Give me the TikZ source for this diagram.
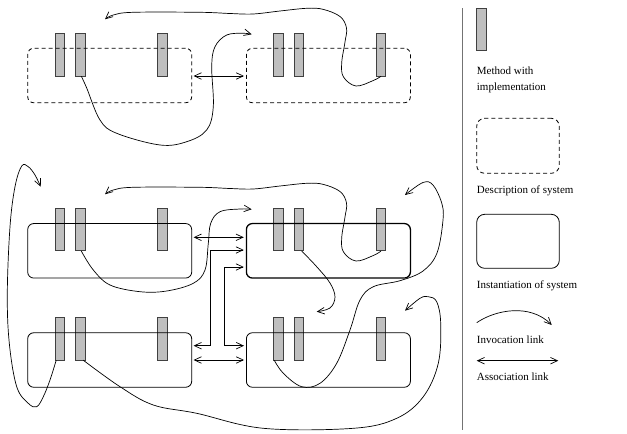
\documentclass[tikz,border=0pt]{standalone}
\usepackage{fontspec}
\setmainfont{Liberation Serif}
\usetikzlibrary{arrows.meta}
\begin{document}
\begin{tikzpicture}[x=1pt,y=-1pt,
  tip/.tip={Straight Barb[length=7pt,width=6.5pt]},
  methodbar/.style={rectangle,draw=black!75,fill=black!25,line width=0.6pt,
    minimum width=9.5pt,minimum height=42.5pt,inner sep=0pt},
  sysbox/.style={rectangle,draw,rounded corners=6pt,line width=0.8pt,
    minimum width=164pt,minimum height=54.5pt,inner sep=0pt},
  descbox/.style={sysbox,dash pattern=on 4pt off 3pt},
  inv/.style={-tip,line width=0.7pt},
  assoc/.style={tip-tip,line width=0.7pt},
  legendtext/.style={anchor=base west,inner sep=0pt,font=\fontsize{11}{13}\selectfont}]
\useasboundingbox (0,0) rectangle (627,434);

% methods: rows d (description), t and b (instances); columns 1..6
\foreach \r/\y in {d/54.7,t/229.5,b/338.7}
  \foreach \c/\x in {1/59.7,2/80.3,3/162.2,4/278.3,5/298.7,6/381}
    \node[methodbar] (\r\c) at (\x,\y) {};

% system descriptions
\node[descbox] (DL) at (109.7,75.5) {};
\node[descbox] (DR) at (328.4,75.5) {};
% system instances
\node[sysbox] (TL) at (109.7,250.8) {};
\node[sysbox,line width=1.3pt] (TR) at (328.4,250.8) {};
\node[sysbox] (BL) at (109.7,360) {};
\node[sysbox] (BR) at (328.4,360) {};

% association links
\draw[assoc] ([xshift=1.5pt]DL.east |- 0,76) -- ([xshift=-2pt]DR.west |- 0,76);
\draw[assoc] ([xshift=1.5pt]TL.east |- 0,237.3) -- ([xshift=-2pt]TR.west |- 0,237.3);
\draw[assoc] ([xshift=1.5pt]BL.east |- 0,360) -- ([xshift=-2pt]BR.west |- 0,360);
\draw[assoc] ([xshift=1.5pt]BL.east |- 0,345.7) -| (210.7,250) -- ([xshift=-2pt]TR.west |- 0,250);
\draw[assoc] ([xshift=-2pt]TR.west |- 0,267) -| (224.5,345.7) -- ([xshift=-2pt]BR.west |- 0,345.7);

% invocation links among descriptions
\coordinate (dA) at (105,19.3);
\coordinate (dB) at (251.7,34.3);
\draw[inv] plot[smooth,tension=0.6] coordinates {(d6.south) (373.3,80.5) (356,86) (343.5,77)
  (341.7,63) (345,42) (346.5,28) (340,16.5) (323,9.3) (306.7,8.3) (280,11) (253,14)
  (230,13.5) (200,12.3) (133,12.3) (113.3,15) (dA)};
\draw[inv] plot[smooth,tension=0.6] coordinates {([xshift=1pt]d2.south) (86.7,88) (100,120)
  (116.7,133.3) (160,145) (186.7,141.7) (206.7,130) (213.3,106.7) (211.7,66.7) (215,46.7)
  (226.7,35) (243.3,33.3) (dB)};

% invocation links among instances
\coordinate (tA) at (105,194.3);
\coordinate (tB) at (251.7,209.3);
\coordinate (tC) at (316.7,311.7);
\coordinate (tD) at (405,195);
\coordinate (tE) at (405,310.7);
\coordinate (tF) at (40.7,186.7);
\draw[inv] plot[smooth,tension=0.6] coordinates {(t6.south) (373.3,255.5) (356,261) (343.5,252)
  (341.7,238) (345,217) (346.5,203) (340,191.5) (323,184.3) (306.7,183.3) (280,186) (253,189)
  (230,188.5) (200,187.3) (133,187.3) (113.3,190) (tA)};
\draw[inv] plot[smooth,tension=0.6] coordinates {([xshift=1pt]t2.south) (93.3,270) (110,285)
  (140,291.7) (166.7,291) (193.3,283.3) (205,270) (208.3,243.3) (210.7,223.3) (220,211.7)
  (240,209) (tB)};
\draw[inv] plot[smooth,tension=0.6] coordinates {([xshift=3pt]t5.south) (316.7,266.7) (330,283)
  (335,297) (330,308) (tC)};
\draw[inv] plot[smooth,tension=0.6] coordinates {([xshift=-4pt]b4.south) (283.3,373.3)
  (301.7,386.7) (320,383.3) (336.7,363.3) (350,330) (360,300) (373.3,286.7) (400,280.7)
  (423,271) (437,253) (443,220) (441.7,203) (433,185) (423,182.5) (tD)};
\draw[inv] plot[smooth,tension=0.6] coordinates {([xshift=3pt]b2.south) (120,386.7)
  (153.3,405) (196.7,413.3) (263.3,428.3) (353.3,428.3) (396.7,418.3) (423.3,396.7)
  (438.3,363.3) (440.7,323.3) (436.7,301.7) (428.3,296.7) (420,298.3) (tE)};
\draw[inv] plot[smooth,tension=0.6] coordinates {([xshift=-3.5pt]b1.south) (50,380)
  (43.3,396.7) (36.7,406.7) (28.3,403.3) (16.7,386.7) (9.3,343.3) (7.3,293.3) (10,226.7)
  (15,186.7) (21.7,166) (28.3,166.7) (35,175) (tF)};

% legend
\draw[black!55,line width=1.2pt] (462.7,8) -- (462.7,430);
\node[methodbar,minimum height=41.7pt,minimum width=9.3pt] (Lbar) at (481.35,29.2) {};
\node[legendtext] (Lt1) at (476.7,74) {Method with};
\node[legendtext] (Lt2) at (476.7,90.7) {implementation};
\node[descbox,minimum width=82.6pt,minimum height=55pt,rounded corners=8pt] (Ldesc) at (518,145.8) {};
\node[legendtext] (Lt3) at (476.7,193.3) {Description of system};
\node[sysbox,minimum width=82.6pt,minimum height=54pt,rounded corners=8pt] (Linst) at (518,241.3) {};
\node[legendtext] (Lt4) at (476.7,288.3) {Instantiation of system};
\coordinate (Li1) at (476.7,322.7);
\coordinate (Li2) at (551.7,325);
\draw[inv] (Li1) .. controls (495,310) and (530,303) .. (Li2);
\node[legendtext] (Lt5) at (476.7,343.3) {Invocation link};
\coordinate (La1) at (476.7,360.7);
\coordinate (La2) at (558.3,360.7);
\draw[assoc] (La1) -- (La2);
\node[legendtext] (Lt6) at (476.7,380) {Association link};
\end{tikzpicture}
\end{document}
